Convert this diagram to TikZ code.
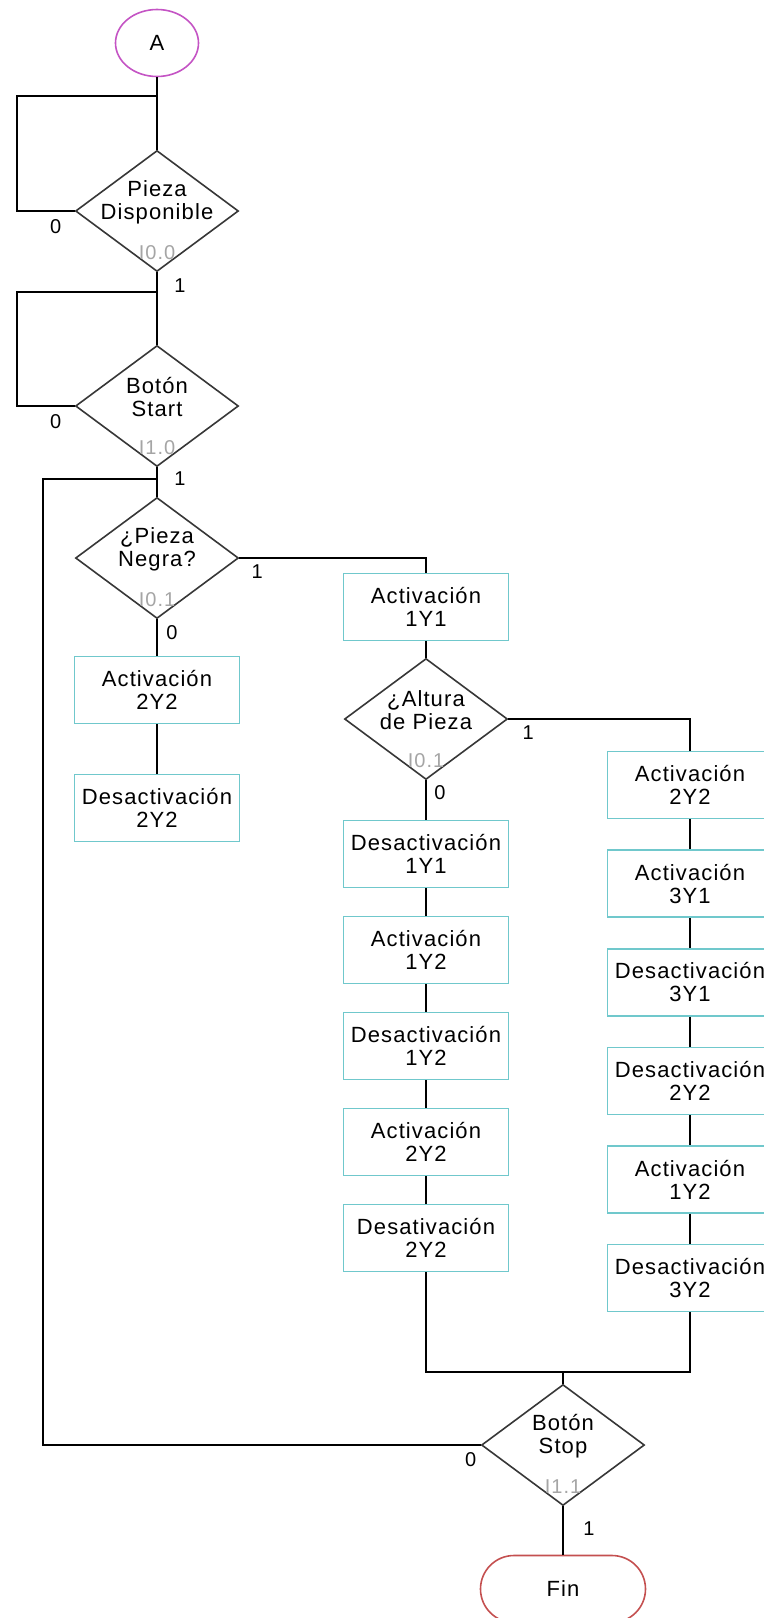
\documentclass[tikz,border=0pt]{standalone}
\usepackage{fontspec}
\setmainfont{Liberation Sans}[LetterSpace=5]
\usetikzlibrary{shapes.geometric,shapes.misc}

\definecolor{boxline}{RGB}{112,200,204}
\definecolor{startline}{RGB}{196,84,196}
\definecolor{endline}{RGB}{196,80,80}
\definecolor{decline}{RGB}{55,55,55}
\definecolor{taggray}{RGB}{165,165,165}

\tikzset{
  txt/.style={font=\fontsize{11}{11.5}\selectfont, align=center},
  act/.style={txt, rectangle, draw=boxline, line width=.8pt, fill=white, minimum width=82.5pt, minimum height=33.5pt, inner sep=0pt},
  dec/.style={diamond, draw=decline, line width=.8pt, fill=white, minimum width=81.5pt, minimum height=60.5pt, inner sep=0pt},
  lab/.style={font=\fontsize{10}{11}\selectfont, inner sep=0pt},
  tag/.style={lab, text=taggray, yshift=-21pt},
  conn/.style={black, line width=.7pt},
}

\begin{document}
\begin{tikzpicture}[x=.5pt, y=-.5pt]
\useasboundingbox (0,0) rectangle (764,1618);

% start and end
\node[txt, ellipse, draw=startline, line width=.8pt, minimum width=41.5pt, minimum height=33.5pt, inner sep=0pt] (a) at (157,43) {A};
\node[txt, rounded rectangle, draw=endline, line width=.8pt, minimum width=82.5pt, minimum height=33.5pt, inner sep=0pt] (fin) at (563,1589) {Fin};

% decisions
\node[dec, label={[txt, yshift=4.5pt]center:Pieza\\Disponible}, label={[tag]center:I0.0}] (d1) at (157,211) {};
\node[dec, label={[txt, yshift=4.5pt]center:Botón\\Start}, label={[tag]center:I1.0}] (d2) at (157,406) {};
\node[dec, label={[txt, yshift=4.5pt]center:¿Pieza\\Negra?}, label={[tag]center:I0.1}] (d3) at (157,558) {};
\node[dec, label={[txt, yshift=4.5pt]center:¿Altura\\de Pieza}, label={[tag]center:I0.1}] (d4) at (426,719) {};
\node[dec, label={[txt, yshift=4.5pt]center:Botón\\Stop}, label={[tag]center:I1.1}] (stop) at (563,1445) {};

% actions
\node[act] (b1) at (426,607) {Activación\\1Y1};
\node[act] (l1) at (157,690) {Activación\\2Y2};
\node[act] (l2) at (157,808) {Desactivación\\2Y2};
\foreach \t [count=\i] in {{Desactivación\\1Y1},{Activación\\1Y2},{Desactivación\\1Y2},{Activación\\2Y2},{Desativación\\2Y2}}
  \node[act] (m\i) at (426,{854+96*(\i-1)}) {\t};
\foreach \t [count=\i] in {{Activación\\2Y2},{Activación\\3Y1},{Desactivación\\3Y1},{Desactivación\\2Y2},{Activación\\1Y2},{Desactivación\\3Y2}}
  \node[act] (r\i) at (690,{785+98.6*(\i-1)}) {\t};

% corner points of the loops
\coordinate (j1) at (157,96);  \coordinate (k1) at (17,96);
\coordinate (j2) at (157,292); \coordinate (k2) at (17,292);
\coordinate (j3) at (157,479); \coordinate (k3) at (43,479);
\coordinate (mg) at (563,1372);

% connectors
\draw[conn] (a) -- (d1);
\draw[conn] (d1.west) -| (k1) -- (j1);
\draw[conn] (d1) -- (d2);
\draw[conn] (d2.west) -| (k2) -- (j2);
\draw[conn] (d2) -- (d3);
\draw[conn] (stop.west) -| (k3) -- (j3);
\draw[conn] (d3) -- (l1);
\draw[conn] (l1) -- (l2);
\draw[conn] (d3.east) -| (b1.north);
\draw[conn] (b1) -- (d4);
\draw[conn] (d4) -- (m1);
\draw[conn] (d4.east) -| (r1.north);
\foreach \i [count=\j from 2] in {1,...,4}
  \draw[conn] (m\i) -- (m\j);
\foreach \i [count=\j from 2] in {1,...,5}
  \draw[conn] (r\i) -- (r\j);
\draw[conn] (m5.south) |- (mg) -| (r6.south);
\draw[conn] (mg) -- (stop);
\draw[conn] (stop) -- (fin);

% branch values
\node[lab, xshift=-9.5pt, yshift=-8pt] (z1) at (d1.west) {0};
\node[lab, xshift=11.5pt, yshift=-6.5pt] (u1) at (d1.south) {1};
\node[lab, xshift=-9.5pt, yshift=-8pt] (z2) at (d2.west) {0};
\node[lab, xshift=11.5pt, yshift=-5.5pt] (u2) at (d2.south) {1};
\node[lab, xshift=7.5pt, yshift=-6.5pt] (z3) at (d3.south) {0};
\node[lab, xshift=9pt, yshift=-7pt] (u3) at (d3.east) {1};
\node[lab, xshift=7pt, yshift=-6pt] (z4) at (d4.south) {0};
\node[lab, xshift=10pt, yshift=-7pt] (u4) at (d4.east) {1};
\node[lab, xshift=-5pt, yshift=-7.5pt] (z5) at (stop.west) {0};
\node[lab, xshift=13pt, yshift=-11pt] (u5) at (stop.south) {1};
\end{tikzpicture}
\end{document}
